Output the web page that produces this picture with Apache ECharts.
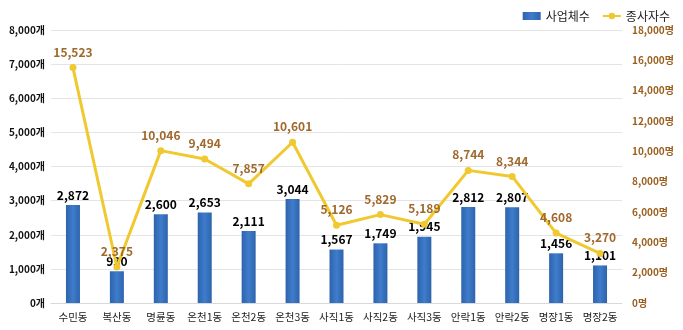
<!DOCTYPE html>
<html><head><meta charset="utf-8">
<script src="https://cdn.jsdelivr.net/npm/echarts@6/dist/echarts.min.js"></script>
<style>html,body{margin:0;padding:0;background:#fff}#c{width:683px;height:330px}</style>
</head><body><div id="c"></div>
<script>
const categories = ['수민동','복산동','명륜동','온천1동','온천2동','온천3동','사직1동','사직2동','사직3동','안락1동','안락2동','명장1동','명장2동'];
const businesses = [2872, 930, 2600, 2653, 2111, 3044, 1567, 1749, 1945, 2812, 2807, 1456, 1101];
const workers = [15523, 2375, 10046, 9494, 7857, 10601, 5126, 5829, 5189, 8744, 8344, 4608, 3270];
const seriesNames = ['사업체수', '종사자수'];

const font = '"Noto Sans CJK KR", "Noto Sans", sans-serif';
const chart = echarts.init(document.getElementById('c'));
const fmt = v => v.toLocaleString('en-US');
chart.setOption({
  animation: false,
  textStyle: { fontFamily: font },
  legend: {
    right: 8, top: 5, itemGap: 12, itemWidth: 18, itemHeight: 8,
    textStyle: { fontSize: 12, color: '#222', fontFamily: font },
    data: [{ name: seriesNames[0], icon: 'rect' }, { name: seriesNames[1] }]
  },
  grid: { left: 51, right: 61, top: 30, bottom: 27 },
  xAxis: {
    type: 'category', data: categories,
    axisTick: { show: false },
    axisLine: { lineStyle: { color: '#d9d9d9' } },
    axisLabel: { interval: 0, color: '#222', fontSize: 10.5, margin: 9, fontFamily: font }
  },
  yAxis: [
    {
      type: 'value', min: 0, max: 8000, interval: 1000,
      axisLabel: { formatter: v => fmt(v) + '개', color: '#111', fontSize: 10, fontWeight: 'bold', margin: 6, fontFamily: font },
      splitLine: { lineStyle: { color: '#e4e4e4' } },
      axisLine: { show: false }, axisTick: { show: false }
    },
    {
      type: 'value', min: 0, max: 18000, interval: 2000,
      axisLabel: { formatter: v => fmt(v) + '명', color: '#9a5f1e', fontSize: 10, fontWeight: 'bold', margin: 10, fontFamily: font },
      splitLine: { show: false }, axisLine: { show: false }, axisTick: { show: false }
    }
  ],
  series: [
    {
      name: seriesNames[0], type: 'bar', data: businesses, barWidth: 14,
      itemStyle: { color: new echarts.graphic.LinearGradient(0, 0, 1, 0, [
        { offset: 0, color: '#2d64ab' }, { offset: 0.5, color: '#3f7ccc' }, { offset: 1, color: '#2d64ab' }]) },
      label: { show: true, position: 'top', distance: 4, color: '#000', fontSize: 12, fontWeight: 'bold', formatter: p => fmt(p.value), fontFamily: font }
    },
    {
      name: seriesNames[1], type: 'line', yAxisIndex: 1, data: workers,
      symbol: 'circle', symbolSize: 7,
      lineStyle: { color: '#f0c830', width: 3 },
      itemStyle: { color: '#f0c830' },
      label: { show: true, position: 'top', distance: 6, color: '#a0682c', fontSize: 12, fontWeight: 'bold', formatter: p => fmt(p.value), fontFamily: font }
    }
  ]
});
</script></body></html>
